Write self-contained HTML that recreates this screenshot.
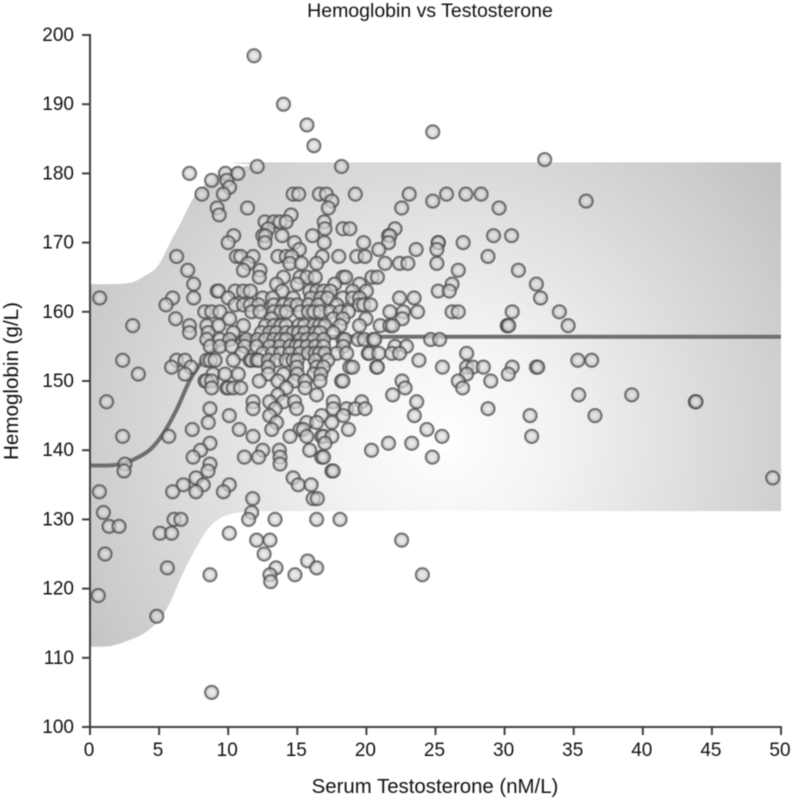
<!DOCTYPE html>
<html>
<head>
<meta charset="utf-8">
<title>Hemoglobin vs Testosterone</title>
<style>
html,body{margin:0;padding:0;background:#fff;overflow:hidden;}
svg{display:block;font-family:"Liberation Sans",Arial,sans-serif;filter:blur(0.45px);}
text{fill:#111;}
</style>
</head>
<body>
<svg id="chart" width="793" height="801" viewBox="0 0 793 801" xmlns="http://www.w3.org/2000/svg">
<defs>
<radialGradient id="band-fill" gradientUnits="userSpaceOnUse" cx="445" cy="440" r="440">
<stop offset="0" stop-color="#ffffff"/>
<stop offset="0.25" stop-color="#f3f3f3"/>
<stop offset="1" stop-color="#c0c0c0"/>
</radialGradient>
<radialGradient id="point-fill" cx="0.5" cy="0.5" r="0.5">
<stop offset="0" stop-color="#e8e8e8"/>
<stop offset="0.55" stop-color="#d0d0d0"/>
<stop offset="1" stop-color="#9a9a9a"/>
</radialGradient>
</defs>
<text x="430" y="17" font-size="19.5" text-anchor="middle">Hemoglobin vs Testosterone</text>
<text x="435" y="793" font-size="20.4" text-anchor="middle">Serum Testosterone (nM/L)</text>
<text x="0" y="0" font-size="20.6" text-anchor="middle" transform="translate(18,381) rotate(-90)">Hemoglobin (g/L)</text>
<g id="band-layer"></g>
<g id="line-layer"></g>
<g id="point-layer"></g>
<g id="axis-layer"></g>
</svg>
<script>
const xTicks = [0, 5, 10, 15, 20, 25, 30, 35, 40, 45, 50];
const yTicks = [100, 110, 120, 130, 140, 150, 160, 170, 180, 190, 200];

const bandX = [0, 1.5, 2.9, 3.8, 4.9, 5.8, 6.6, 7.6, 8.7, 9.9, 11.8, 13.5, 50];
const bandUpper = [164, 164, 164.2, 165, 166.6, 170, 173, 176.8, 179, 180.4, 181.2, 181.6, 181.6];
const bandLower = [111.6, 111.7, 112.6, 113.4, 115.2, 118, 121.7, 125.6, 129, 130.6, 131.2, 131.2, 131.2];

const fitX = [0, 1.4, 2.2, 3.1, 4.3, 5.3, 6.3, 7.2, 8.2, 9.4, 10.5, 11.8, 13, 50];
const fitY = [137.8, 137.8, 138, 138.6, 140, 142.4, 146, 150, 153, 155.2, 156, 156.3, 156.4, 156.4];

const hemoglobinLevels = [197,190,187,186,184,182,181,180,179,178,177,176,175,174,173,172,171,170,169,168,167,166,165,164,163,162,161,160,159,158,157,156,155,154,153,152,151,150,149,148,147,146,145,144,143,142,141,140,139,138,137,136,135,134,133,131,130,129,128,127,125,124,123,122,121,119,116,105];
const testosteroneAtLevel = [
[11.87],
[14.0],
[15.7],
[24.8],
[16.2],
[32.9],
[12.1,18.2],
[7.2,9.8,10.7],
[8.8,9.9],
[10.1],
[8.1,9.65,14.7,15.1,16.6,17.1,19.2,23.1,25.8,27.2,28.3],
[17.5,24.8,35.9],
[9.2,11.4,17.25,22.55,29.6],
[9.35,14.55],
[12.66,13.3,13.75,14.2,16.95],
[12.9,17,18.3,18.8,22.07],
[10.4,12.5,12.7,13.9,16.1,21.6,21.7,29.2,30.5],
[10,12.66,14.8,16.95,19.8,21.6,25.2,25.2,27],
[15.15,20.9,23.6,25.1],
[6.27,10.6,10.9,11.8,13.6,14.2,14.6,16.8,18,19.3,19.9,28.8],
[11.45,14.45,15.3,16.4,21.35,22.4,23,25.1],
[7.07,11.1,12.3,26.65,31],
[12.25,14,15.2,15.7,16.3,18.3,18.5,20.4,20.8],
[7.5,13.5,15,17.7,19.5,26.2,32.3],
[9.2,9.3,10.5,11.1,11.6,13.9,15.9,16.4,16.9,17.4,19,20,25.2,26],
[0.7,5.98,7.5,10,12.5,13.2,14.7,16,16.7,17.2,18.3,19,19.5,22.4,23.45,32.6],
[5.5,10.5,11.1,11.6,12.2,13.3,14,14.5,15,15.8,16.5,17.85,19.5,19.8,20.3],
[8.3,8.8,9.4,11.7,12.3,13.3,13.8,14.2,15.2,15.8,16.2,16.65,17.4,18.1,18.7,21.7,22.67,23.7,26.2,26.65,30.55,33.96],
[6.2,10.1,13.15,17.6,18.3,19.97,22.6],
[3.09,7.2,8.45,9.3,11.1,12.7,13.3,13.8,14.2,15.1,15.5,16.2,16.6,17,18.1,19.5,21,21.7,21.9,30.2,30.2,30.3,34.6],
[7.2,8.55,10.37,12.4,13,13.5,14.2,14.7,15.1,15.55,16.3,17.6,16.65],
[8.45,9.4,10.1,11.3,12.1,12.7,13.3,13.8,14.2,15.2,15.7,16.2,16.9,18.3,18.45,19.4,19.85,20.5,20.6,24.65,25.3],
[8.7,9.4,10.25,11.2,12.06,13,13.75,14.47,14.9,15.2,15.7,16.3,16.9,18.33,22.07,22.9],
[11,12.5,13.2,13.8,14.47,15.2,15.8,16.3,16.6,17,17.85,18.57,20.14,20.2,20.9,21.83,22.4,27.25],
[2.36,6.27,6.87,8.44,8.7,9.05,10.37,11.58,11.7,12.06,12.2,12.9,13.5,14.2,14.7,15,16.3,17.2,23.8,35.3,36.3],
[5.9,7.3,12.9,14.95,16.4,16.9,18.8,19,20.74,20.8,25.5,27.25,27.7,28.46,30.55,32.3,32.4],
[3.5,6.87,8.9,9.77,10.73,12.9,14,15,16.2,16.7,27.25,30.27],
[8.32,8.44,8.8,12.25,13.6,14.8,15.56,16.64,18.2,18.3,22.58,26.65,29],
[8.8,9.9,10,10.37,10.9,14.2,15.56,22.8,26.96],
[13.6,16.4,21.9,35.36,39.2],
[1.2,11.8,13,14,14.8,17.6,19.66,23.64,43.8,43.85],
[8.68,11.8,13.4,14.95,17.6,18.57,19.2,19.9,28.8],
[10.08,13,16.76,18.33,23.47,31.84,36.54],
[8.56,13.5,15.68,16.4,17.5],
[7.4,10.8,13.15,15.2,15.44,18.7,24.38],
[2.36,5.7,11.8,14.47,15.68,16.76,16.9,17.5,25.47,31.96],
[8.68,17,21.6,23.28],
[8,12.5,13.7,15.9,20.37],
[7.46,11.17,12.2,13.75,16.76,16.9,24.77],
[2.53,8.68,13.75],
[2.46,8.54,17.5,17.6],
[7.67,14.7,49.4],
[6.75,8.2,10.08,15.07,16],
[0.68,5.98,7.67,9.65],
[11.77,16.15,16.45],
[0.97,11.7],
[6.08,6.58,11.48,13.39,16.4,18.09],
[1.38,2.1],
[5.07,5.9,10.08],
[12.06,13.02,22.55],
[1.09,12.6],
[15.75],
[5.6,13.46,16.4],
[8.68,13.02,14.83,24.05],
[13.07],
[0.6],
[4.83],
[8.8]
];

const plotLeft = 90;
const plotRight = 781;
const plotBottom = 727;
const plotTop = 35;
const svgNS = 'http://www.w3.org/2000/svg';

function xScale(v) { return plotLeft + (v - 0) / 50 * (plotRight - plotLeft); }
function yScale(v) { return plotBottom - (v - 100) / 100 * (plotBottom - plotTop); }

function smoothPath(xs, ys, start) {
  let d = start ? 'M' : 'L';
  d += xScale(xs[0]).toFixed(2) + ' ' + yScale(ys[0]).toFixed(2);
  for (let i = 1; i < xs.length; i++) {
    const x0 = xScale(xs[i - 1]), y0 = yScale(ys[i - 1]);
    const x1 = xScale(xs[i]), y1 = yScale(ys[i]);
    const prevX = i > 1 ? xScale(xs[i - 2]) : x0;
    const prevY = i > 1 ? yScale(ys[i - 2]) : y0;
    const nextX = i < xs.length - 1 ? xScale(xs[i + 1]) : x1;
    const nextY = i < xs.length - 1 ? yScale(ys[i + 1]) : y1;
    const long = Math.abs(x1 - x0) > 100;
    const sign = x1 > x0 ? 1 : -1;
    const c1x = long ? x0 + 30 * sign : x0 + (x1 - prevX) / 6;
    const c1y = long ? y0 : y0 + (y1 - prevY) / 6;
    const c2x = long ? x1 - 30 * sign : x1 - (nextX - x0) / 6;
    const c2y = long ? y1 : y1 - (nextY - y0) / 6;
    d += 'C' + c1x.toFixed(2) + ' ' + c1y.toFixed(2) + ' ' + c2x.toFixed(2) + ' ' + c2y.toFixed(2) + ' ' + x1.toFixed(2) + ' ' + y1.toFixed(2);
  }
  return d;
}

const bandLayer = document.getElementById('band-layer');
const lineLayer = document.getElementById('line-layer');
const pointLayer = document.getElementById('point-layer');
const axisLayer = document.getElementById('axis-layer');

const band = document.createElementNS(svgNS, 'path');


const revX = bandX.slice().reverse();
const revLower = bandLower.slice().reverse();
band.setAttribute('d', smoothPath(bandX, bandUpper, true) + smoothPath(revX, revLower, false) + 'Z');
band.setAttribute('fill', 'url(#band-fill)');
bandLayer.appendChild(band);

const fitLine = document.createElementNS(svgNS, 'path');


fitLine.setAttribute('d', smoothPath(fitX, fitY, true));
fitLine.setAttribute('fill', 'none');
fitLine.setAttribute('stroke', '#6f6f6f');
fitLine.setAttribute('stroke-width', '4');
lineLayer.appendChild(fitLine);

hemoglobinLevels.forEach(function (level, i) {
  testosteroneAtLevel[i].forEach(function (t) {
    const dot = document.createElementNS(svgNS, 'circle');
    
    
    dot.setAttribute('cx', xScale(t).toFixed(2));
    dot.setAttribute('cy', yScale(level).toFixed(2));
    dot.setAttribute('r', '6.6');
    dot.setAttribute('fill', 'url(#point-fill)');
    dot.setAttribute('fill-opacity', '0.68');
    dot.setAttribute('stroke', '#4a4a4a');
    dot.setAttribute('stroke-opacity', '0.72');
    dot.setAttribute('stroke-width', '2');
    pointLayer.appendChild(dot);
  });
});

const yAxisLine = document.createElementNS(svgNS, 'line');


yAxisLine.setAttribute('x1', plotLeft);
yAxisLine.setAttribute('x2', plotLeft);
yAxisLine.setAttribute('y1', plotTop - 1);
yAxisLine.setAttribute('y2', plotBottom + 8);
yAxisLine.setAttribute('stroke', '#404040');
yAxisLine.setAttribute('stroke-width', '2');
axisLayer.appendChild(yAxisLine);

const xAxisLine = document.createElementNS(svgNS, 'line');


xAxisLine.setAttribute('x1', plotLeft - 8);
xAxisLine.setAttribute('x2', plotRight + 1);
xAxisLine.setAttribute('y1', plotBottom);
xAxisLine.setAttribute('y2', plotBottom);
xAxisLine.setAttribute('stroke', '#404040');
xAxisLine.setAttribute('stroke-width', '2');
axisLayer.appendChild(xAxisLine);

xTicks.forEach(function (tick) {
  const mark = document.createElementNS(svgNS, 'line');
  
  
  mark.setAttribute('x1', xScale(tick));
  mark.setAttribute('x2', xScale(tick));
  mark.setAttribute('y1', plotBottom);
  mark.setAttribute('y2', plotBottom + 8);
  mark.setAttribute('stroke', '#404040');
  mark.setAttribute('stroke-width', '2');
  axisLayer.appendChild(mark);
  const label = document.createElementNS(svgNS, 'text');
  
  
  label.setAttribute('x', xScale(tick) - 1);
  label.setAttribute('y', plotBottom + 29);
  label.setAttribute('font-size', '19');
  label.setAttribute('text-anchor', 'middle');
  label.textContent = tick;
  axisLayer.appendChild(label);
});

yTicks.forEach(function (tick) {
  const mark = document.createElementNS(svgNS, 'line');
  
  
  mark.setAttribute('x1', plotLeft - 8);
  mark.setAttribute('x2', plotLeft);
  mark.setAttribute('y1', yScale(tick));
  mark.setAttribute('y2', yScale(tick));
  mark.setAttribute('stroke', '#404040');
  mark.setAttribute('stroke-width', '2');
  axisLayer.appendChild(mark);
  const label = document.createElementNS(svgNS, 'text');
  
  
  label.setAttribute('x', plotLeft - 16);
  label.setAttribute('y', yScale(tick) + 6);
  label.setAttribute('font-size', '19');
  label.setAttribute('text-anchor', 'end');
  label.textContent = tick;
  axisLayer.appendChild(label);
});
</script>
</body>
</html>
